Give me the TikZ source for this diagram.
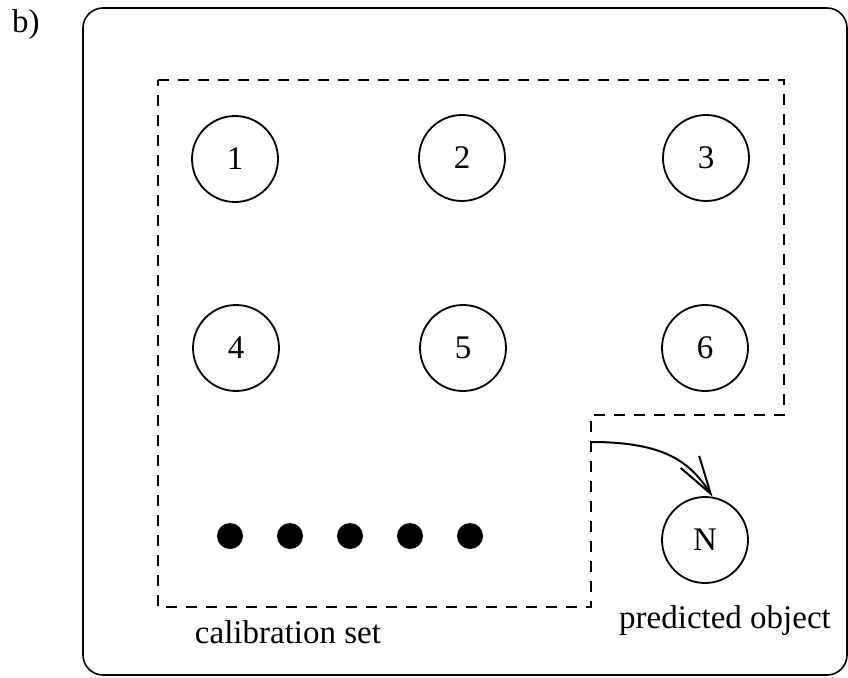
\documentclass[tikz,border=0pt]{standalone}
\usepackage{fontspec}
\setmainfont{Liberation Serif}
\usetikzlibrary{arrows.meta}
\begin{document}
\begin{tikzpicture}[x=1pt,y=-1pt,
  every node/.style={font=\fontsize{33}{40}\selectfont},
  obj/.style={circle,draw,line width=1.8pt,minimum size=86pt,inner sep=0pt},
  dotobj/.style={circle,fill,minimum size=26pt,inner sep=0pt},
  setline/.style={line width=1.2pt,dash pattern=on 11pt off 9pt},
  frame/.style={line width=1.6pt,rounded corners=20pt},
  link/.style={line width=2pt,-{Straight Barb[length=38pt,width=22pt,line width=2pt]}}]
\useasboundingbox (0,0) rectangle (848,677);
% outer frame
\draw[frame] (83,8) rectangle (847,675);
\node[anchor=base west,inner sep=0pt] (lab) at (12,33) {b)};
% calibration set boundary
\draw[setline] (158,80) -- (784,80) -- (784,415) -- (591,415) -- (591,607) -- (158,607) -- cycle;
% calibration objects
\node[obj] (o1) at (235,159) {1};
\node[obj] (o2) at (462,158) {2};
\node[obj] (o3) at (706,158) {3};
\node[obj] (o4) at (236,348) {4};
\node[obj] (o5) at (463,348) {5};
\node[obj] (o6) at (705,348) {6};
\foreach \i/\x in {1/230,2/290,3/350,4/410,5/470}
  \node[dotobj] (d\i) at (\x,536) {};
% predicted object
\node[obj] (oN) at (705,540) {N};
\coordinate (src) at (591,442);
\draw[link] (src) .. controls (665,442) and (690,462) .. (oN.80);
% labels
\node[anchor=base,inner sep=0pt] (calib) at (288,643) {calibration set};
\node[anchor=base,inner sep=0pt] (pred) at (725,628) {predicted object};
\end{tikzpicture}
\end{document}
